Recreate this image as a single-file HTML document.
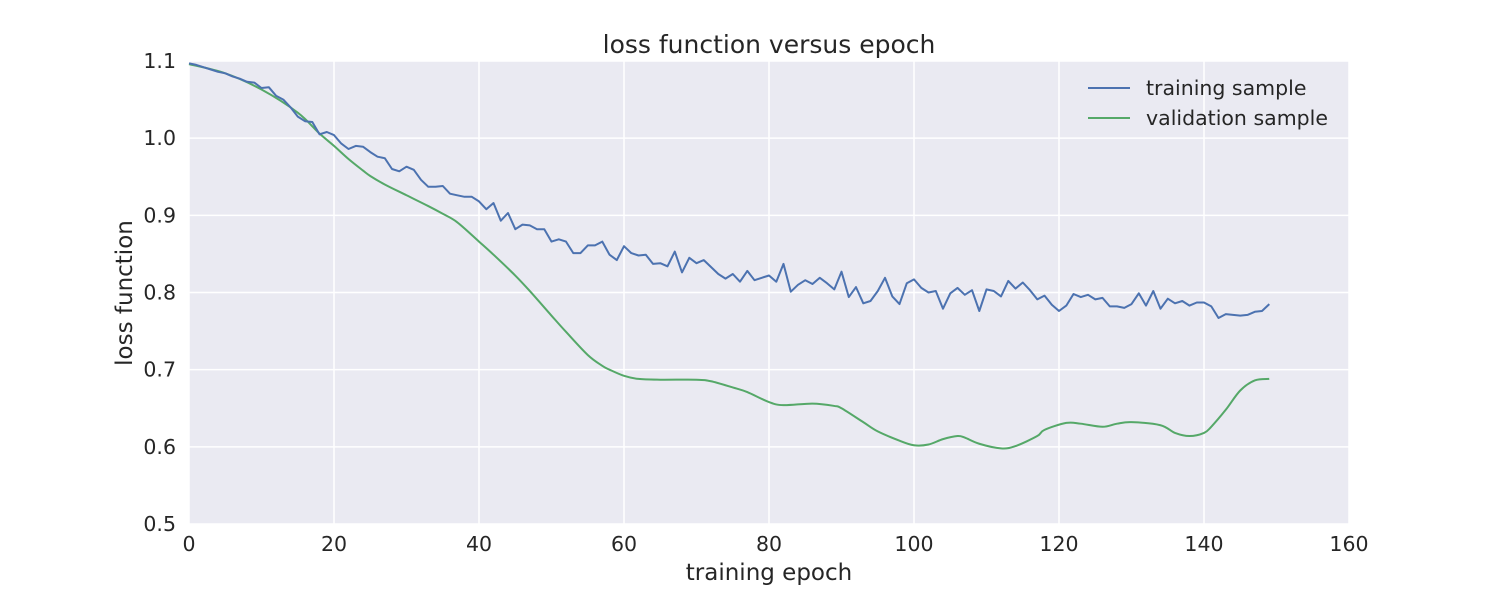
<!DOCTYPE html>
<html><head><meta charset="utf-8"><style>
body{margin:0;background:#fff;}
svg{display:block;font-family:"DejaVu Sans","Liberation Sans",sans-serif;}
</style></head><body>
<svg id="chart" width="1500" height="600"></svg>
<script>
const trainEpochs = Array.from({length:150},(_,i)=>i);
const trainLoss = [1.097,1.095,1.092,1.089,1.086,1.084,1.080,1.077,1.073,1.072,1.065,1.066,1.055,1.050,1.040,1.028,1.022,1.021,1.005,1.008,
1.004,0.993,0.986,0.990,0.989,0.982,0.976,0.974,0.960,0.957,0.963,0.959,0.946,0.937,0.937,0.938,0.928,0.926,0.924,0.924,
0.918,0.908,0.916,0.893,0.903,0.882,0.888,0.887,0.882,0.882,0.866,0.869,0.866,0.851,0.851,0.861,0.861,0.866,0.849,0.842,
0.860,0.851,0.848,0.849,0.837,0.838,0.834,0.853,0.826,0.845,0.838,0.842,0.833,0.824,0.818,0.824,0.814,0.828,0.816,0.819,
0.822,0.814,0.837,0.801,0.810,0.816,0.811,0.819,0.812,0.804,0.827,0.794,0.807,0.786,0.789,0.802,0.819,0.795,0.785,0.812,
0.817,0.806,0.800,0.802,0.779,0.799,0.806,0.797,0.803,0.776,0.804,0.802,0.795,0.815,0.805,0.813,0.803,0.791,0.796,0.784,
0.776,0.783,0.798,0.794,0.797,0.791,0.793,0.782,0.782,0.780,0.785,0.799,0.783,0.802,0.779,0.792,0.786,0.789,0.783,0.787,
0.787,0.782,0.767,0.772,0.771,0.770,0.771,0.775,0.776,0.785];
const valEpochs = [0,5,10,15,18,20,22,24,25,27,30,33,35,37,40,42,45,47,50,52,55,57,58,60,62,65,70,72,75,77,80,82,86,89,90,93,95,98,100,102,104,106,107,109,112,114,117,118,121,123,126,128,130,134,136,138,140,141,143,145,147,149];
const valLoss = [1.096,1.084,1.063,1.033,1.006,0.990,0.973,0.958,0.951,0.940,0.926,0.912,0.902,0.891,0.866,0.849,0.822,0.802,0.770,0.749,0.719,0.705,0.700,0.692,0.688,0.687,0.687,0.685,0.677,0.671,0.658,0.654,0.656,0.653,0.650,0.632,0.620,0.608,0.602,0.603,0.610,0.614,0.612,0.604,0.598,0.601,0.614,0.622,0.631,0.630,0.626,0.630,0.632,0.628,0.618,0.614,0.618,0.626,0.648,0.673,0.686,0.688];
const xTicks = [0,20,40,60,80,100,120,140,160];
const yTicks = [0.5,0.6,0.7,0.8,0.9,1.0,1.1];

const L=189,R=1349,T=61,B=524;
const xs=v=>L+(v-0)/160*(R-L);
const ys=v=>B-(v-0.5)/0.6*(B-T);
const svg=document.getElementById('chart');
const NS='http://www.w3.org/2000/svg';
function mk(tag,attrs,parent){const e=document.createElementNS(NS,tag);for(const k in attrs)e.setAttribute(k,attrs[k]);(parent||svg).appendChild(e);return e;}

const bg=mk('rect',{x:L,y:T,width:R-L,height:B-T,fill:'#eaeaf2'});



xTicks.forEach(t=>{
  const g=mk('line',{x1:xs(t),x2:xs(t),y1:T,y2:B,stroke:'#fff','stroke-width':1.5});
  
  
  const tx=mk('text',{x:xs(t),y:551,'text-anchor':'middle','font-size':20.5,fill:'#262626'});
  tx.textContent=t;
  
  
});
yTicks.forEach(t=>{
  const g=mk('line',{x1:L,x2:R,y1:ys(t),y2:ys(t),stroke:'#fff','stroke-width':1.5});
  
  
  const tx=mk('text',{x:176,y:ys(t)+7,'text-anchor':'end','font-size':20.5,fill:'#262626'});
  tx.textContent=t.toFixed(1);
  
  
});

function line(xv,yv,color,name){
  const P=xv.map((x,i)=>[xs(x),ys(yv[i])]);
  let d='M'+P[0][0].toFixed(1)+','+P[0][1].toFixed(1);
  for(let i=0;i<P.length-1;i++){
    const p0=P[Math.max(i-1,0)],p1=P[i],p2=P[i+1],p3=P[Math.min(i+2,P.length-1)];
    const c1=[p1[0]+(p2[0]-p0[0])/6,p1[1]+(p2[1]-p0[1])/6];
    const c2=[p2[0]-(p3[0]-p1[0])/6,p2[1]-(p3[1]-p1[1])/6];
    d+='C'+c1.join(',')+' '+c2.join(',')+' '+p2.join(',');
  }
  const p=mk('path',{d:d,fill:'none',stroke:color,'stroke-width':2,'stroke-linejoin':'round'});
  
  
}
function poly(xv,yv,color,name){
  const d=xv.map((x,i)=>(i?'L':'M')+xs(x).toFixed(1)+','+ys(yv[i]).toFixed(1)).join('');
  const p=mk('path',{d:d,fill:'none',stroke:color,'stroke-width':2,'stroke-linejoin':'round'});
  
  
}
line(valEpochs,valLoss,'#55a868','validation-line');
poly(trainEpochs,trainLoss,'#4c72b0','training-line');

const title=mk('text',{x:769,y:53,'text-anchor':'middle','font-size':25,fill:'#262626'});
title.textContent='loss function versus epoch';


const xt=mk('text',{x:769,y:580,'text-anchor':'middle','font-size':23,fill:'#262626'});
xt.textContent='training epoch';


const yt=mk('text',{x:0,y:0,'text-anchor':'middle','font-size':23,fill:'#262626',transform:'translate(132,293) rotate(-90)'});
yt.textContent='loss function';



const legends=[['training sample','#4c72b0',88],['validation sample','#55a868',118]];
legends.forEach(([lab,c,y])=>{
  const l=mk('line',{x1:1088,x2:1130,y1:y,y2:y,stroke:c,'stroke-width':2});
  
  
  const t=mk('text',{x:1146,y:y+7,'font-size':20.5,fill:'#262626'});
  t.textContent=lab;
  
  
});
</script>
</body></html>
